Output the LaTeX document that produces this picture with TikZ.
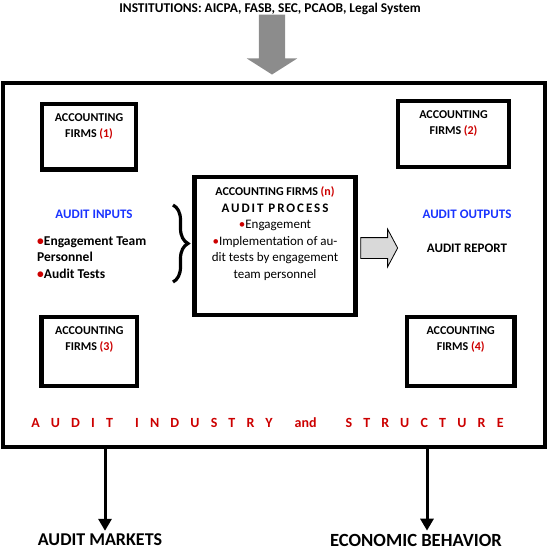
\documentclass[tikz,border=0pt]{standalone}
\usepackage{fontspec}
\setmainfont{Carlito}
\newfontfamily\trackedfont{Carlito}[LetterSpace=80]
\newfontfamily\processfont{Carlito}[LetterSpace=15]
\usetikzlibrary{positioning,arrows.meta,shapes.arrows,decorations.pathreplacing}
\definecolor{auditred}{rgb}{0.8,0.0,0.0}
\definecolor{auditblue}{rgb}{0.1,0.2,1.0}
\definecolor{arrowgray}{rgb}{0.55,0.55,0.55}
\definecolor{arrowlight}{rgb}{0.85,0.85,0.85}
\newcommand{\reddot}{{\color{auditred}\textbullet}}
\tikzset{
  firmbox/.style={draw,line width=4.5pt,inner sep=0pt},
  firmtext/.style={align=center,inner sep=0pt,font=\fontsize{12}{16}\selectfont\bfseries},
  headtext/.style={inner sep=0pt,font=\fontsize{13}{16}\selectfont\bfseries,text=auditblue},
  plaintext/.style={inner sep=0pt,font=\fontsize{13}{16}\selectfont\bfseries},
  outarrow/.style={line width=3pt,shorten >=3pt,-{Triangle[width=13pt,length=12pt]}},
}
\begin{document}
\begin{tikzpicture}[x=1pt,y=-1pt]
\useasboundingbox (0,0) rectangle (548,550);
%Industry frame
\node[draw,line width=4.5pt,minimum width=542pt,minimum height=364pt] (industry) at (274,265) {};
%Institutions
\node[inner sep=0pt,font=\fontsize{13.4}{15}\selectfont\bfseries] (inst) at (270,9) {INSTITUTIONS: AICPA, FASB, SEC, PCAOB, Legal System};
\node[single arrow,fill=arrowgray,draw=none,shape border rotate=270,minimum height=60pt,minimum width=50pt,
  single arrow head extend=12pt,single arrow tip angle=115,inner sep=13pt,anchor=tip]
  (pressure) at ([xshift=-2pt,yshift=6pt]industry.north) {};
%Firms
\node[firmbox,minimum width=94pt,minimum height=65.5pt] (firm1) at (89,136.8) {};
\node[firmtext,below=11.5pt of firm1.north] (firm1 text) {ACCOUNTING\\FIRMS {\color{auditred}(1)}};
\node[firmbox,minimum width=111pt,minimum height=66pt] (firm2) at (453.5,134) {};
\node[firmtext,below=11.5pt of firm2.north] (firm2 text) {ACCOUNTING\\FIRMS {\color{auditred}(2)}};
\node[firmbox,minimum width=95.5pt,minimum height=69pt] (firm3) at (89.3,351.5) {};
\node[firmtext,below=11.5pt of firm3.north] (firm3 text) {ACCOUNTING\\FIRMS {\color{auditred}(3)}};
\node[firmbox,minimum width=107.5pt,minimum height=69pt] (firm4) at (460.7,351.5) {};
\node[firmtext,below=11.5pt of firm4.north] (firm4 text) {ACCOUNTING\\FIRMS {\color{auditred}(4)}};
%Audit process
\node[firmbox,minimum width=161pt,minimum height=138pt] (process) at (275,246) {};
\node[align=center,inner sep=0pt,font=\fontsize{13}{16.5}\selectfont,below=12pt of process.north] (process text)
  {{\fontsize{12}{16.5}\selectfont\bfseries ACCOUNTING FIRMS {\color{auditred}(n)}}\\
   {\processfont\bfseries AUDIT PROCESS}\\
   \reddot Engagement\\
   \reddot Implementation of au-\\
   dit tests by engagement\\
   team personnel};
%Inputs
\node[headtext] (inputs) at (94,214) {AUDIT INPUTS};
\node[align=left,inner sep=0pt,anchor=north west,font=\fontsize{13.5}{16.5}\selectfont\bfseries]
  (input list) at (37,236.5) {\reddot Engagement Team\\Personnel\\\reddot Audit Tests};
\coordinate (brace top) at (173,205);
\coordinate (brace bottom) at (173,282);
\draw[decorate,decoration={brace,amplitude=15pt},line width=3.2pt] (brace top) -- (brace bottom);
%Outputs
\node[headtext] (outputs) at (467,214) {AUDIT OUTPUTS};
\node[plaintext] (report) at (467,248) {AUDIT REPORT};
\node[single arrow,draw,line width=0.8pt,fill=arrowlight,minimum height=37pt,minimum width=37pt,
  single arrow head extend=8.5pt,single arrow tip angle=124,inner sep=10pt,anchor=tail,xshift=2.5pt]
  (flow) at (process.east |- report) {};
%Structure
\node[inner sep=0pt,text=auditred,font=\fontsize{14}{16}\selectfont\bfseries] (structure) at (267.5,423)
  {{\trackedfont AUDIT}\hspace{22pt}{\trackedfont INDUSTRY}\hspace{22pt}and\hspace{29pt}{\trackedfont STRUCTURE}};
%Effects
\node[inner sep=0pt,font=\fontsize{18}{20}\selectfont\bfseries] (markets) at (100,540) {AUDIT MARKETS};
\node[inner sep=0pt,font=\fontsize{18.6}{20}\selectfont\bfseries] (behavior) at (416,540) {ECONOMIC BEHAVIOR};
\coordinate (markets top) at (105,447);
\coordinate (behavior top) at (427,447);
\draw[outarrow] (markets top) -- (markets top |- markets.north);
\draw[outarrow] (behavior top) -- (behavior top |- behavior.north);
\end{tikzpicture}
\end{document}
